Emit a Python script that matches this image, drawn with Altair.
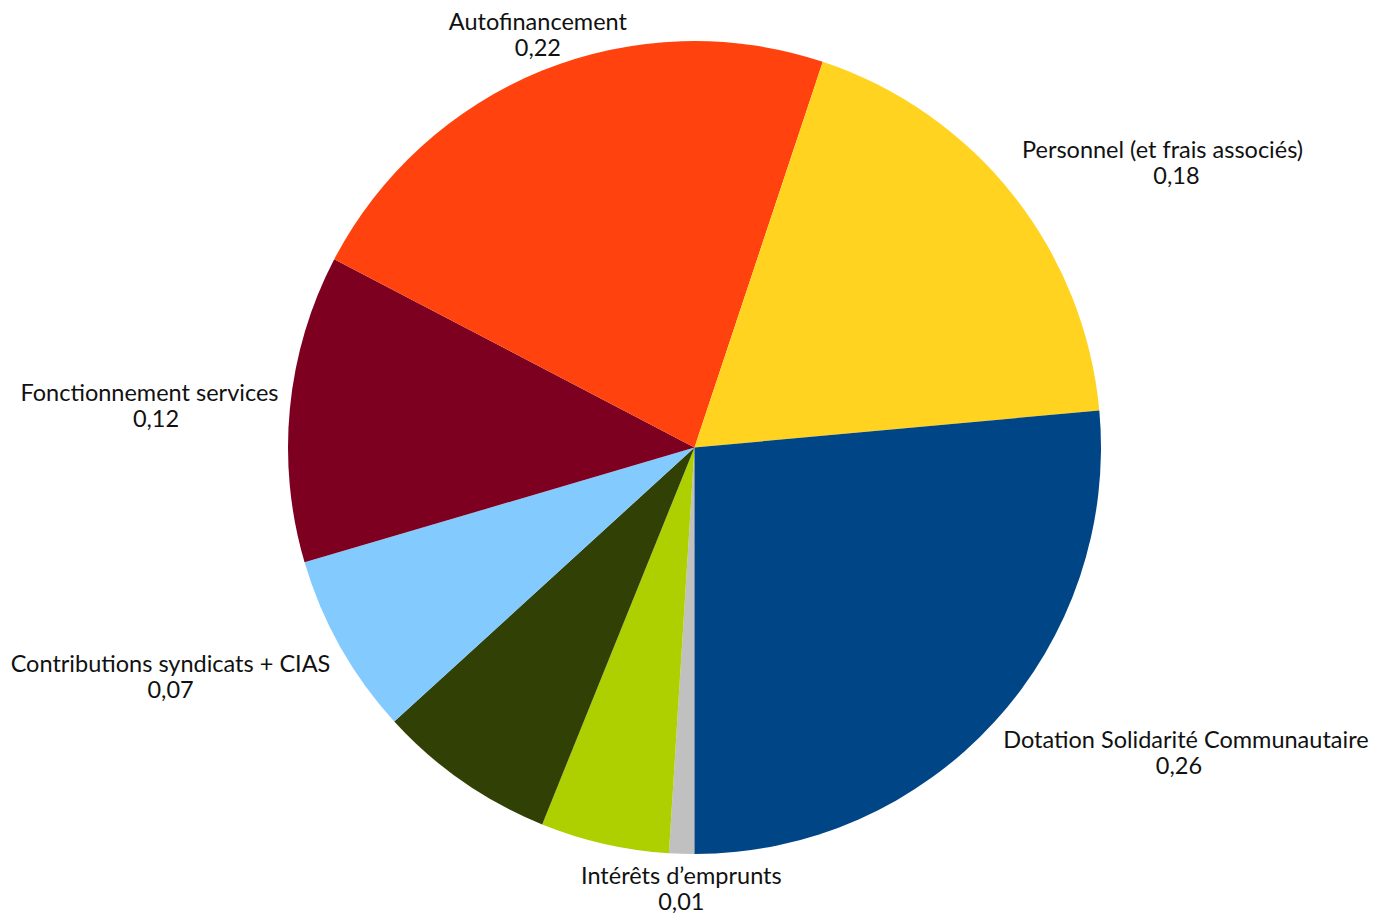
import math
import altair as alt
import pandas as pd

# Slices listed clockwise starting from 6 o'clock
categories = [
    "Intérêts d’emprunts",
    "Poste 7",
    "Poste 6",
    "Contributions syndicats + CIAS",
    "Fonctionnement services",
    "Autofinancement",
    "Personnel (et frais associés)",
    "Dotation Solidarité Communautaire",
]
values = [0.010, 0.051, 0.071, 0.072, 0.122, 0.224, 0.184, 0.264]
show_label = [True, False, False, True, True, True, True, True]
colors = ["#c0c0c0", "#aecf00", "#314004", "#83caff", "#7e0021", "#ff420e", "#ffd320", "#004586"]

df = pd.DataFrame({
    "cat": categories,
    "value": values,
    "show": show_label,
    "idx": list(range(len(categories))),
})

PAD = {"left": 8, "top": 4, "right": 16, "bottom": 32}
W, H = 1357, 871
CX, CY = W / 2, H / 2
R = 406.5        # pie radius
RL = 418         # label anchor radius
FONT_SIZE = 23.5
CHAR_W = 10.65   # estimated average glyph width at this size

theta = alt.Theta("value:Q", stack=True,
                  scale=alt.Scale(range=[math.pi, 3 * math.pi]))
order = alt.Order("idx:Q", sort="ascending")

pie = alt.Chart(df).mark_arc(outerRadius=R).encode(
    theta=theta,
    order=order,
    color=alt.Color("cat:N", scale=alt.Scale(domain=categories, range=colors), legend=None),
)

labels = alt.Chart(df).transform_joinaggregate(
    total="sum(value)"
).transform_window(
    cum="sum(value)", sort=[alt.SortField("idx", order="ascending")]
).transform_calculate(
    mid="PI + 2*PI*(datum.cum - datum.value/2)/datum.total"
).transform_calculate(
    ax=f"{CX} + {RL}*sin(datum.mid)",
    ay=f"{CY} - {RL}*cos(datum.mid)",
    sx="sin(datum.mid) > 0.383 ? 1 : (sin(datum.mid) < -0.383 ? -1 : 0)",
    sy="cos(datum.mid) < -0.383 ? 1 : (cos(datum.mid) > 0.383 ? -1 : 0)",
).transform_calculate(
    ncy="datum.ay + (datum.sy == 1 ? 12 : (datum.sy == -1 ? -37 : -13))",
    vcy="datum.ay + (datum.sy == 1 ? 38 : (datum.sy == -1 ? -11 : 13))",
    vx=f"datum.ax + datum.sx*length(datum.cat)*{CHAR_W}/2",
    val="replace(format(datum.value, '.2f'), '.', ',')",
).transform_filter("datum.show")

txt = dict(font="Lato", fontSize=FONT_SIZE, color="#111111", baseline="middle")

def name_layer(sx, align):
    return labels.transform_filter(f"datum.sx == {sx}").mark_text(align=align, **txt).encode(
        x=alt.X("ax:Q", scale=None, axis=None),
        y=alt.Y("ncy:Q", scale=None, axis=None),
        text="cat:N",
    )

values_layer = labels.mark_text(align="center", **txt).encode(
    x=alt.X("vx:Q", scale=None, axis=None),
    y=alt.Y("vcy:Q", scale=None, axis=None),
    text="val:N",
)

chart = alt.layer(
    pie,
    name_layer(1, "left"),
    name_layer(-1, "right"),
    name_layer(0, "center"),
    values_layer,
).properties(
    width=W, height=H, padding=PAD,
    autosize=alt.AutoSizeParams(type="none"),
).configure_view(stroke=None)

chart.save("out.html", embed_options={"renderer": "svg", "actions": False})
